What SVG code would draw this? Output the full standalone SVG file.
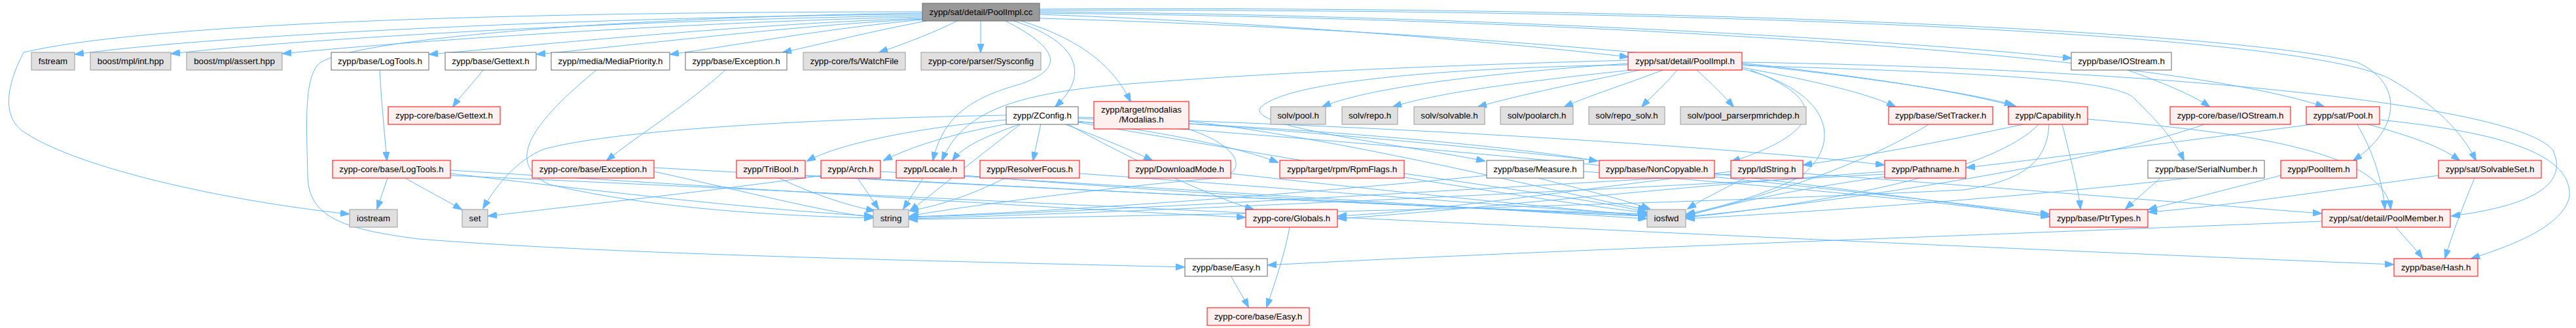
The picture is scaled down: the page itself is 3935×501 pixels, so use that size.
<svg xmlns="http://www.w3.org/2000/svg" width="3935" height="501" viewBox="0 0 3935 501">
<style>
.n text{font-family:"Liberation Sans",Arial,sans-serif;font-size:13.33px;fill:#000;text-anchor:middle}
.g rect{fill:#e0e0e0;stroke:#999999;stroke-width:1}
.w rect{fill:#ffffff;stroke:#666666;stroke-width:1}
.r rect{fill:#fff0f0;stroke:#ff0000;stroke-width:1}
.root rect{fill:#999999;stroke:#666666;stroke-width:1}
#edges path{fill:none;stroke:#63b8ff;stroke-width:1;marker-end:url(#ah)}
</style>
<defs>
<marker id="ah" markerUnits="userSpaceOnUse" markerWidth="14" markerHeight="10" refX="13" refY="5" orient="auto"><path d="M0,0 L14,5 L0,10 z" fill="#63b8ff" stroke="#63b8ff"/></marker>
</defs>
<rect width="3935" height="501" fill="#ffffff"/>
<g id="edges">
<path d="M1409,22 C1000,24 350,50 115,83"/>
<path d="M1409,24 C1050,28 500,55 262,82"/>
<path d="M1409,26 C1100,32 650,60 432,82"/>
<path d="M1409,28 C1150,36 850,66 656,83"/>
<path d="M1409,29 C1200,40 980,68 820,83"/>
<path d="M1409,30 C1250,45 1120,70 1024,83"/>
<path d="M1415,32 C1330,48 1260,66 1196,80"/>
<path d="M1462,32 C1430,48 1390,64 1343,80"/>
<path d="M1498,32 L1498,80"/>
<path d="M1409,18 C900,18 250,30 36,80 C5,140 5,185 42,205 C120,255 330,305 533,327"/>
<path d="M1409,20 C1000,25 560,55 490,95 C462,115 469,200 470,270 C472,330 520,350 640,365 C950,390 1500,400 1809,408"/>
<path d="M1548,32 C1640,60 1670,110 1612,163"/>
<path d="M1560,32 C1650,60 1700,100 1727,155"/>
<path d="M1536,32 C1620,75 1625,105 1560,128 C1480,150 1440,180 1425,245"/>
<path d="M1588,22 C1950,35 2300,65 2487,87"/>
<path d="M1588,18 C2200,22 2900,60 3164,89"/>
<path d="M1588,28 C2200,45 2850,100 3080,163"/>
<path d="M1588,20 C2400,28 3300,80 3550,163"/>
<path d="M1588,16 C2500,12 3500,45 3650,120 C3720,160 3760,200 3782,245"/>
<path d="M1588,14 C2500,8 3400,45 3600,95 C3670,125 3670,195 3595,245"/>
<path d="M580,107 C583,160 587,200 591,245"/>
<path d="M738,107 C720,130 702,148 692,163"/>
<path d="M1108,107 C1050,160 970,210 927,245"/>
<path d="M911,107 C810,190 770,250 840,282 C1000,320 1200,330 1333,333"/>
<path d="M3250,107 C3300,125 3350,145 3375,163"/>
<path d="M2487,97 C2300,110 2100,130 2020,163"/>
<path d="M2492,107 C2350,122 2200,140 2128,163"/>
<path d="M2505,107 C2420,125 2320,145 2258,163"/>
<path d="M2540,107 C2480,130 2430,145 2390,163"/>
<path d="M2562,107 C2545,128 2522,148 2508,163"/>
<path d="M2592,107 C2615,128 2635,148 2648,163"/>
<path d="M2661,103 C2780,125 2860,145 2895,163"/>
<path d="M2661,98 C2850,118 3000,140 3075,160"/>
<path d="M2487,92 C2200,100 1950,110 1700,130 C1550,145 1470,170 1439,245"/>
<path d="M2487,99 C2200,104 1960,125 1925,165 C1905,195 2150,222 2268,246"/>
<path d="M2674,107 C2790,150 2790,200 2645,247"/>
<path d="M2661,105 C2800,140 2815,220 2750,270 C2690,300 2620,318 2576,327"/>
<path d="M2661,100 C3000,110 3230,120 3260,150 C3290,180 3320,210 3336,245"/>
<path d="M2661,95 C3300,105 3850,160 3900,230 C3925,285 3860,315 3745,330"/>
<path d="M1537,176 C1300,180 950,195 830,228 C790,245 760,280 738,318"/>
<path d="M1537,183 C1400,195 1280,220 1233,246"/>
<path d="M1540,189 C1450,205 1390,225 1350,245"/>
<path d="M1560,189 C1500,210 1470,225 1455,245"/>
<path d="M1590,189 L1578,245"/>
<path d="M1625,189 C1680,210 1730,230 1760,245"/>
<path d="M1647,185 C1800,205 1900,228 1952,248"/>
<path d="M1560,189 C1480,250 1420,300 1390,322"/>
<path d="M1630,189 C1740,250 1850,300 1915,320"/>
<path d="M1647,187 C1900,230 2300,300 2515,325"/>
<path d="M1647,181 C2000,195 2300,222 2440,246"/>
<path d="M1647,179 C2200,195 2700,230 2878,252"/>
<path d="M1647,186 C2300,230 2900,300 3130,327"/>
<path d="M1816,185 C2100,220 2400,300 2515,320"/>
<path d="M1816,189 C2400,230 2900,300 3130,330"/>
<path d="M1815,197 C1900,225 1905,265 1860,272 C1700,285 1450,318 1390,330"/>
<path d="M592,272 L576,319"/>
<path d="M619,272 C650,290 680,305 705,320"/>
<path d="M688,265 C900,290 1150,320 1333,330"/>
<path d="M688,260 C1100,285 1600,318 1902,332"/>
<path d="M688,268 C1500,305 2800,370 3656,404"/>
<path d="M999,262 C1150,295 1250,322 1333,332"/>
<path d="M999,256 C1500,285 2200,315 2515,330"/>
<path d="M1190,272 C1250,300 1300,315 1336,322"/>
<path d="M1230,268 C1650,290 2200,318 2515,327"/>
<path d="M1256,268 C1100,290 900,312 746,330"/>
<path d="M1310,272 L1342,319"/>
<path d="M1345,262 C1750,285 2250,318 2515,334"/>
<path d="M1410,272 L1380,319"/>
<path d="M1473,268 C1800,295 2250,320 2515,330"/>
<path d="M1535,272 C1480,300 1430,315 1390,322"/>
<path d="M1649,265 C2000,290 2300,315 2515,328"/>
<path d="M1880,265 C2100,290 2350,315 2515,330"/>
<path d="M2145,265 C2300,288 2450,308 2515,324"/>
<path d="M2350,272 C2420,290 2480,305 2520,319"/>
<path d="M2271,268 C2000,295 1600,325 1389,331"/>
<path d="M2419,262 C2700,282 3000,312 3131,331"/>
<path d="M2665,272 C2630,290 2600,305 2578,319"/>
<path d="M2644,266 C2200,292 1700,322 1389,332"/>
<path d="M2644,262 C2400,290 2200,322 2044,330"/>
<path d="M2754,265 C3100,290 3400,315 3546,326"/>
<path d="M2879,266 C2400,292 1800,322 1389,334"/>
<path d="M2879,270 C2720,292 2630,315 2576,330"/>
<path d="M2879,262 C2500,290 2250,320 2044,334"/>
<path d="M2948,189 C2850,250 2700,300 2576,329"/>
<path d="M3095,189 C2950,220 2850,238 2755,252"/>
<path d="M3115,189 C3050,260 2800,310 2576,332"/>
<path d="M3130,189 C3128,240 3100,275 3000,290 C2500,315 1800,330 1389,335"/>
<path d="M3150,189 C3165,250 3175,290 3178,319"/>
<path d="M3189,182 C3400,200 3640,225 3652,319"/>
<path d="M3370,189 C3200,250 2800,310 2576,331"/>
<path d="M3540,189 C3300,220 3100,245 3004,256"/>
<path d="M3614,189 C3690,210 3730,225 3757,245"/>
<path d="M3600,189 C3625,230 3640,280 3643,319"/>
<path d="M3636,183 C3800,200 3930,230 3925,300 C3915,350 3820,380 3775,395"/>
<path d="M3300,272 C3280,290 3262,305 3247,319"/>
<path d="M3342,272 C3100,300 2800,322 2576,334"/>
<path d="M3484,268 C3400,290 3320,310 3282,320"/>
<path d="M3725,268 C3550,292 3400,315 3282,324"/>
<path d="M3780,272 C3760,320 3745,360 3735,394"/>
<path d="M3660,347 C3675,365 3690,380 3700,394"/>
<path d="M3547,338 C3000,360 2300,385 1937,405"/>
<path d="M1970,347 C1962,390 1948,430 1935,469"/>
<path d="M1880,421 C1890,440 1900,455 1907,469"/>
</g>
<g id="n0" class="n root"><rect x="1409" y="5" width="179" height="27"/><text x="1498.5" y="23">zypp/sat/detail/PoolImpl.cc</text></g>
<g id="n1" class="n g"><rect x="48" y="80" width="66" height="27"/><text x="81" y="98">fstream</text></g>
<g id="n2" class="n g"><rect x="138" y="80" width="123" height="27"/><text x="199.5" y="98">boost/mpl/int.hpp</text></g>
<g id="n3" class="n g"><rect x="285" y="80" width="146" height="27"/><text x="358" y="98">boost/mpl/assert.hpp</text></g>
<g id="n4" class="n w"><rect x="506" y="80" width="149" height="27"/><text x="580.5" y="98">zypp/base/LogTools.h</text></g>
<g id="n5" class="n w"><rect x="680" y="80" width="139" height="27"/><text x="749.5" y="98">zypp/base/Gettext.h</text></g>
<g id="n6" class="n w"><rect x="842" y="80" width="181" height="27"/><text x="932.5" y="98">zypp/media/MediaPriority.h</text></g>
<g id="n7" class="n w"><rect x="1047" y="80" width="155" height="27"/><text x="1124.5" y="98">zypp/base/Exception.h</text></g>
<g id="n8" class="n g"><rect x="1227" y="80" width="156" height="27"/><text x="1305" y="98">zypp-core/fs/WatchFile</text></g>
<g id="n9" class="n g"><rect x="1407" y="80" width="183" height="27"/><text x="1498.5" y="98">zypp-core/parser/Sysconfig</text></g>
<g id="n10" class="n r"><rect x="2487" y="80" width="174" height="27"/><text x="2574" y="98">zypp/sat/detail/PoolImpl.h</text></g>
<g id="n11" class="n w"><rect x="3164" y="80" width="153" height="27"/><text x="3240.5" y="98">zypp/base/IOStream.h</text></g>
<g id="n12" class="n r"><rect x="593" y="163" width="171" height="27"/><text x="678.5" y="181">zypp-core/base/Gettext.h</text></g>
<g id="n13" class="n w"><rect x="1537" y="163" width="110" height="27"/><text x="1592" y="181">zypp/ZConfig.h</text></g>
<g id="n14" class="n r"><rect x="1671" y="155" width="145" height="42"/><text x="1743.5" y="172">zypp/target/modalias</text><text x="1743.5" y="187">/Modalias.h</text></g>
<g id="n15" class="n g"><rect x="1941" y="163" width="84" height="27"/><text x="1983" y="181">solv/pool.h</text></g>
<g id="n16" class="n g"><rect x="2050" y="163" width="85" height="27"/><text x="2092.5" y="181">solv/repo.h</text></g>
<g id="n17" class="n g"><rect x="2160" y="163" width="108" height="27"/><text x="2214" y="181">solv/solvable.h</text></g>
<g id="n18" class="n g"><rect x="2292" y="163" width="111" height="27"/><text x="2347.5" y="181">solv/poolarch.h</text></g>
<g id="n19" class="n g"><rect x="2427" y="163" width="116" height="27"/><text x="2485" y="181">solv/repo_solv.h</text></g>
<g id="n20" class="n g"><rect x="2567" y="163" width="192" height="27"/><text x="2663" y="181">solv/pool_parserpmrichdep.h</text></g>
<g id="n21" class="n r"><rect x="2885" y="163" width="159" height="27"/><text x="2964.5" y="181">zypp/base/SetTracker.h</text></g>
<g id="n22" class="n r"><rect x="3068" y="163" width="121" height="27"/><text x="3128.5" y="181">zypp/Capability.h</text></g>
<g id="n23" class="n r"><rect x="3315" y="163" width="184" height="27"/><text x="3407" y="181">zypp-core/base/IOStream.h</text></g>
<g id="n24" class="n r"><rect x="3523" y="163" width="112" height="27"/><text x="3579" y="181">zypp/sat/Pool.h</text></g>
<g id="n25" class="n r"><rect x="508" y="245" width="180" height="27"/><text x="598" y="263">zypp-core/base/LogTools.h</text></g>
<g id="n26" class="n r"><rect x="813" y="245" width="186" height="27"/><text x="906" y="263">zypp-core/base/Exception.h</text></g>
<g id="n27" class="n r"><rect x="1125" y="245" width="105" height="27"/><text x="1177.5" y="263">zypp/TriBool.h</text></g>
<g id="n28" class="n r"><rect x="1254" y="245" width="91" height="27"/><text x="1299.5" y="263">zypp/Arch.h</text></g>
<g id="n29" class="n r"><rect x="1369" y="245" width="104" height="27"/><text x="1421" y="263">zypp/Locale.h</text></g>
<g id="n30" class="n r"><rect x="1497" y="245" width="152" height="27"/><text x="1573" y="263">zypp/ResolverFocus.h</text></g>
<g id="n31" class="n r"><rect x="1724" y="245" width="156" height="27"/><text x="1802" y="263">zypp/DownloadMode.h</text></g>
<g id="n32" class="n r"><rect x="1955" y="245" width="190" height="27"/><text x="2050" y="263">zypp/target/rpm/RpmFlags.h</text></g>
<g id="n33" class="n w"><rect x="2271" y="245" width="148" height="27"/><text x="2345" y="263">zypp/base/Measure.h</text></g>
<g id="n34" class="n r"><rect x="2443" y="245" width="176" height="27"/><text x="2531" y="263">zypp/base/NonCopyable.h</text></g>
<g id="n35" class="n r"><rect x="2644" y="245" width="110" height="27"/><text x="2699" y="263">zypp/IdString.h</text></g>
<g id="n36" class="n r"><rect x="2879" y="245" width="124" height="27"/><text x="2941" y="263">zypp/Pathname.h</text></g>
<g id="n37" class="n w"><rect x="3281" y="245" width="178" height="27"/><text x="3370" y="263">zypp/base/SerialNumber.h</text></g>
<g id="n38" class="n r"><rect x="3484" y="245" width="116" height="27"/><text x="3542" y="263">zypp/PoolItem.h</text></g>
<g id="n39" class="n r"><rect x="3725" y="245" width="157" height="27"/><text x="3803.5" y="263">zypp/sat/SolvableSet.h</text></g>
<g id="n40" class="n g"><rect x="534" y="320" width="73" height="27"/><text x="570.5" y="338">iostream</text></g>
<g id="n41" class="n g"><rect x="706" y="320" width="39" height="27"/><text x="725.5" y="338">set</text></g>
<g id="n42" class="n g"><rect x="1334" y="320" width="54" height="27"/><text x="1361" y="338">string</text></g>
<g id="n43" class="n r"><rect x="1903" y="320" width="140" height="27"/><text x="1973" y="338">zypp-core/Globals.h</text></g>
<g id="n44" class="n g"><rect x="2516" y="320" width="59" height="27"/><text x="2545.5" y="338">iosfwd</text></g>
<g id="n45" class="n r"><rect x="3131" y="320" width="150" height="27"/><text x="3206" y="338">zypp/base/PtrTypes.h</text></g>
<g id="n46" class="n r"><rect x="3547" y="320" width="196" height="27"/><text x="3645" y="338">zypp/sat/detail/PoolMember.h</text></g>
<g id="n47" class="n w"><rect x="1810" y="395" width="126" height="27"/><text x="1873" y="413">zypp/base/Easy.h</text></g>
<g id="n48" class="n r"><rect x="3657" y="395" width="128" height="27"/><text x="3721" y="413">zypp/base/Hash.h</text></g>
<g id="n49" class="n r"><rect x="1844" y="470" width="156" height="27"/><text x="1922" y="488">zypp-core/base/Easy.h</text></g>
</svg>
